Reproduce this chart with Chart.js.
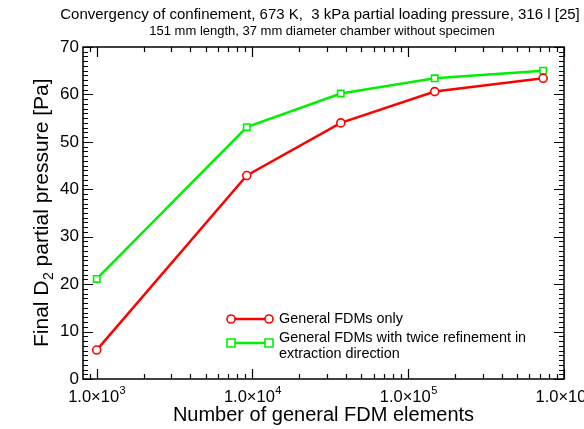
<!DOCTYPE html>
<html>
<head>
<meta charset="utf-8">
<script src="https://cdn.jsdelivr.net/npm/chart.js@4"></script>
<style>
    html, body { margin: 0; padding: 0; background: #ffffff; }
    #container { width: 584px; height: 429px; position: relative; }
</style>
</head>
<body>
<div id="container"><canvas id="grafico"></canvas></div>
<script>
// #region Dados

var elementos = [1000, 9200, 36900, 148000, 735000];
var pressaoSomenteFdm = [6.1, 42.9, 54.0, 60.6, 63.4];
var pressaoRefinamento = [21.1, 53.1, 60.2, 63.4, 65.0];
var ticksX = [1e3, 1e4, 1e5, 1e6];
var ticksY = [0, 10, 20, 30, 40, 50, 60, 70];
var titulos = [
    "Convergency of confinement, 673 K,  3 kPa partial loading pressure, 316 l [25]",
    "151 mm length, 37 mm diameter chamber without specimen"
];
var legendas = ["General FDMs only", "General FDMs with twice refinement in", "extraction direction"];

// #endregion Dados

// #region Funções Auxiliares

var FONTE = "'Liberation Sans', Arial, Helvetica, sans-serif";
var VERMELHO = "#ff0000";
var VERDE = "#00f000";

function montarPontos(xs, ys) {
    return xs.map(function (x, i) { return { x: x, y: ys[i] }; });
}

function desenharMarcador(ctx, tipo, x, y, cor) {
    ctx.save();
    ctx.strokeStyle = cor;
    ctx.lineWidth = 1.6;
    ctx.fillStyle = "#ffffff";
    ctx.beginPath();
    if (tipo === "circle")
        ctx.arc(x, y, 4, 0, Math.PI * 2);
    else
        ctx.rect(x - 4, y - 4, 8, 8);
    ctx.fill();
    ctx.stroke();
    ctx.restore();
}

// #endregion Funções Auxiliares

// #region Plugin de Eixos

var pluginEixos = {
    id: "eixosIdl",
    afterDraw: function (chart) {
        var ctx = chart.ctx;
        var area = chart.chartArea;
        var sx = chart.scales.x;
        var sy = chart.scales.y;

        ctx.save();
        ctx.strokeStyle = "#000000";
        ctx.lineWidth = 1.5;
        ctx.strokeRect(area.left, area.top, area.right - area.left, area.bottom - area.top);

        // ticks do eixo Y (esquerda e direita)
        ctx.lineWidth = 1.2;
        ctx.beginPath();
        for (var v = 0; v <= 70; v++) {
            var py = Math.round(sy.getPixelForValue(v)) + 0.5;
            var tam = (v % 10 === 0) ? 10 : 5;
            ctx.moveTo(area.left, py); ctx.lineTo(area.left + tam, py);
            ctx.moveTo(area.right, py); ctx.lineTo(area.right - tam, py);
        }
        // ticks do eixo X (baixo e cima)
        for (var d = 100; d <= 1e6; d *= 10) {
            for (var m = 1; m <= 9; m++) {
                var valor = d * m;
                if (valor < sx.min || valor > sx.max) continue;
                var px = Math.round(sx.getPixelForValue(valor)) + 0.5;
                var tamX = (m === 1) ? 10 : 5;
                ctx.moveTo(px, area.bottom); ctx.lineTo(px, area.bottom - tamX);
                ctx.moveTo(px, area.top); ctx.lineTo(px, area.top + tamX);
            }
        }
        ctx.stroke();

        // rótulos Y
        ctx.fillStyle = "#000000";
        ctx.font = "17px " + FONTE;
        ctx.textAlign = "right";
        ctx.textBaseline = "middle";
        ticksY.forEach(function (t) {
            ctx.fillText(String(t), area.left - 4, sy.getPixelForValue(t));
        });

        // rótulos X com expoente
        ctx.textBaseline = "alphabetic";
        ctx.textAlign = "left";
        ticksX.forEach(function (t) {
            var base = "1.0\u00d710";
            var exp = String(Math.round(Math.log10(t)));
            ctx.font = "16.5px " + FONTE;
            var wb = ctx.measureText(base).width;
            ctx.font = "11px " + FONTE;
            var we = ctx.measureText(exp).width;
            var x0 = sx.getPixelForValue(t) - (wb + we) / 2;
            ctx.font = "16.5px " + FONTE;
            ctx.fillText(base, x0, area.bottom + 23);
            ctx.font = "11px " + FONTE;
            ctx.fillText(exp, x0 + wb + 0.5, area.bottom + 15);
        });

        // título do eixo X
        ctx.font = "20px " + FONTE;
        ctx.textAlign = "center";
        ctx.textBaseline = "middle";
        ctx.fillText("Number of general FDM elements", (area.left + area.right) / 2, area.bottom + 36);

        // título do eixo Y com subscrito
        ctx.save();
        ctx.translate(41, (area.top + area.bottom) / 2);
        ctx.rotate(-Math.PI / 2);
        var p1 = "Final D", p2 = "2", p3 = " partial pressure [Pa]";
        ctx.font = "21px " + FONTE;
        var w1 = ctx.measureText(p1).width, w3 = ctx.measureText(p3).width;
        ctx.font = "14px " + FONTE;
        var w2 = ctx.measureText(p2).width;
        var xi = -(w1 + w2 + w3) / 2;
        ctx.textAlign = "left";
        ctx.textBaseline = "alphabetic";
        ctx.font = "21px " + FONTE;
        ctx.fillText(p1, xi, 7);
        ctx.font = "14px " + FONTE;
        ctx.fillText(p2, xi + w1 + 0.5, 12);
        ctx.font = "21px " + FONTE;
        ctx.fillText(p3, xi + w1 + w2 + 0.5, 7);
        ctx.restore();

        // títulos do gráfico
        ctx.textAlign = "center";
        ctx.font = "15px " + FONTE;
        ctx.fillText(titulos[0], 320, 15);
        ctx.font = "13px " + FONTE;
        ctx.fillText(titulos[1], 322, 31);

        // legenda
        var series = [
            { cor: VERMELHO, tipo: "circle", y: 319 },
            { cor: VERDE, tipo: "rect", y: 343 }
        ];
        series.forEach(function (s) {
            ctx.strokeStyle = s.cor;
            ctx.lineWidth = 2.5;
            ctx.beginPath();
            ctx.moveTo(231, s.y); ctx.lineTo(269, s.y);
            ctx.stroke();
            desenharMarcador(ctx, s.tipo, 231, s.y, s.cor);
            desenharMarcador(ctx, s.tipo, 269, s.y, s.cor);
        });
        ctx.fillStyle = "#000000";
        ctx.font = "14.4px " + FONTE;
        ctx.textAlign = "left";
        ctx.fillText(legendas[0], 279, 319);
        ctx.fillText(legendas[1], 279, 338);
        ctx.fillText(legendas[2], 279, 354);
        ctx.restore();
    }
};

// #endregion Plugin de Eixos

// #region Inicialização

function loadGrafico() {
    var ctx = document.getElementById("grafico").getContext("2d");
    new Chart(ctx, {
        type: "line",
        data: {
            datasets: [{
                label: legendas[0],
                data: montarPontos(elementos, pressaoSomenteFdm),
                borderColor: VERMELHO,
                backgroundColor: "#ffffff",
                borderWidth: 2.5,
                pointStyle: "circle",
                pointRadius: 4,
                pointBorderWidth: 1.6,
                tension: 0
            }, {
                label: legendas[1],
                data: montarPontos(elementos, pressaoRefinamento),
                borderColor: VERDE,
                backgroundColor: "#ffffff",
                borderWidth: 2.5,
                pointStyle: "rect",
                pointRadius: 4.5,
                pointBorderWidth: 1.6,
                tension: 0
            }]
        },
        options: {
            responsive: true,
            maintainAspectRatio: false,
            animation: false,
            layout: { padding: { left: 83, right: 20, top: 47, bottom: 50 } },
            plugins: { legend: { display: false }, title: { display: false }, tooltip: { enabled: false } },
            scales: {
                x: { type: "logarithmic", min: 817, max: 1e6, display: false },
                y: { type: "linear", min: 0, max: 70, display: false }
            }
        },
        plugins: [pluginEixos]
    });
}

loadGrafico();

// #endregion Inicialização
</script>
</body>
</html>
